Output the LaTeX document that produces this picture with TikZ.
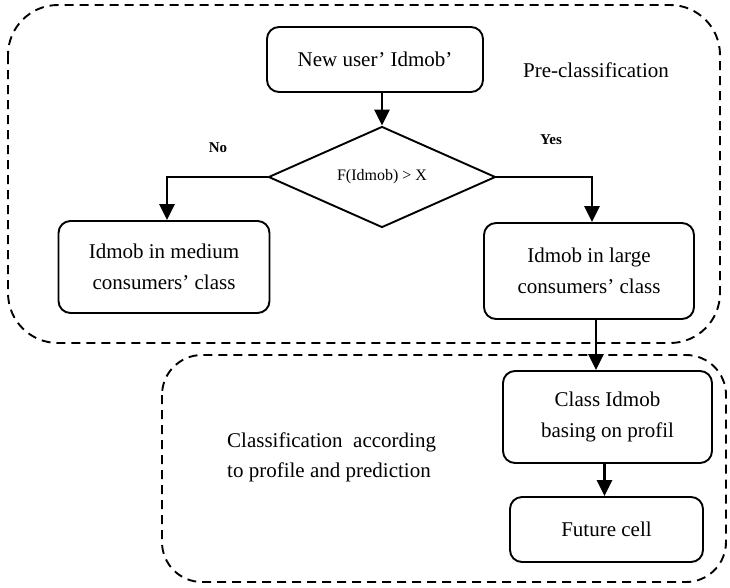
\documentclass[tikz,border=0pt]{standalone}
\usepackage{fontspec}
\setmainfont{Liberation Serif}
\usetikzlibrary{arrows.meta,shapes.geometric}
\begin{document}
\begin{tikzpicture}[x=1pt,y=-1pt,
  region/.style={line width=1.9pt,dash pattern=on 9pt off 6pt,rounded corners=#1},
  stepbox/.style={draw,line width=1.9pt,rounded corners=12pt,align=center,
    font=\fontsize{21}{31}\selectfont,inner sep=0pt},
  decision/.style={draw,diamond,line width=1.9pt,aspect=2.25,inner sep=0pt,
    minimum width=227pt,minimum height=101pt,font=\fontsize{16}{19}\selectfont},
  flow/.style={line width=2.6pt,-{Triangle[length=16pt,width=15pt]}},
  tag/.style={font=\fontsize{15}{18}\selectfont\bfseries},
  caption/.style={font=\fontsize{21}{30}\selectfont,align=left,inner sep=0pt}]
\useasboundingbox (0,0) rectangle (730,587);

% the two phases
\draw[region=50pt] (8,5) rectangle (720,343);
\draw[region=40pt] (162,355) rectangle (726,582);

% steps
\node[stepbox,minimum width=216pt,minimum height=65pt] (new) at (375,59.5) {New user’ Idmob’};
\node[decision] (dia) at (382,177) {F(Idmob) > X};
\node[stepbox,minimum width=211pt,minimum height=92pt] (med) at (164,267) {Idmob in medium\\consumers’ class};
\node[stepbox,minimum width=210pt,minimum height=96pt] (large) at (589,271) {Idmob in large\\consumers’ class};
\node[stepbox,minimum width=209pt,minimum height=92pt] (cls) at (607.5,417) {Class Idmob\\basing on profil};
\node[stepbox,minimum width=193pt,minimum height=65pt] (fut) at (606.5,529.5) {Future cell};

% labels
\node[font=\fontsize{21}{25}\selectfont] (pre) at (596,70) {Pre-classification};
\node[tag] (no) at (218,148) {No};
\node[tag] (yes) at (551,140) {Yes};
\node[caption,anchor=west] (cap) at (227,457) {Classification\ \ according\\to profile and prediction};

% connectors
\draw[flow] (dia.north |- new.south) -- (dia.north);
\draw[flow] (dia.west) -| ([xshift=3pt]med.north);
\draw[flow] (dia.east) -| ([xshift=3pt]large.north);
\draw[flow] ([xshift=7pt]large.south) -- ([xshift=7pt]large.south |- cls.north);
\draw[flow] ([xshift=-3pt]cls.south) -- ([xshift=-3pt]cls.south |- fut.north);
\end{tikzpicture}
\end{document}
